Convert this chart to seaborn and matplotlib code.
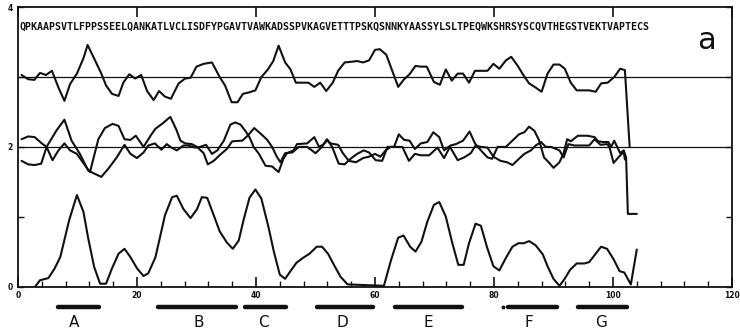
import numpy as np
import pandas as pd
import matplotlib
matplotlib.use("Agg")
import matplotlib.pyplot as plt
from matplotlib.ticker import MultipleLocator
import seaborn as sns

# ---------------- data ----------------
sequence = ("QPKAAPSVTLFPPSSEELQANKATLVCLISDFYPGAVTVAWKADSSPVKAGVETTTPSKQ"
            "SNNKYAASSYLSLTPEQWKSHRSYSCQVTHEGSTVEKTVAPTECS")

top_x = [0.6, 1.7, 2.75, 3.7, 4.7, 5.7, 6.8, 7.8, 8.75, 9.9, 11.0, 11.7, 13.0, 14.0,
         14.8, 15.8, 16.9, 17.7, 18.7, 19.7, 20.7, 21.7, 22.8, 23.7, 24.7, 25.7, 27.0,
         28.1, 29.0, 30.0, 31.2, 32.6, 33.9, 34.8, 35.9, 36.9, 37.8, 38.8, 39.9, 40.9,
         42.0, 42.9, 43.8, 44.9, 45.8, 46.7, 47.8, 48.8, 49.8, 50.8, 51.8, 52.9, 53.8,
         54.9, 56.1, 57.0, 58.0, 59.0, 60.0, 60.8, 61.9, 62.9, 63.9, 64.9, 65.8, 66.8,
         67.7, 68.7, 69.9, 70.9, 71.9, 72.9, 73.9, 74.8, 75.8, 76.8, 78.9, 79.9, 80.9,
         82.0, 82.9, 84.0, 85.0, 85.9, 87.0, 88.0, 89.0, 90.0, 91.0, 91.9, 92.9, 93.9,
         94.9, 96.0, 97.1, 98.0, 99.1, 100.2, 101.2, 102.0, 102.8]
top_y = [3.03, 2.97, 2.96, 3.06, 3.03, 3.09, 2.85, 2.66, 2.90, 3.05, 3.27, 3.46, 3.23, 3.05,
         2.88, 2.76, 2.73, 2.92, 3.04, 2.98, 3.03, 2.80, 2.67, 2.80, 2.72, 2.69, 2.91,
         2.98, 2.99, 3.15, 3.19, 3.21, 3.00, 2.88, 2.64, 2.64, 2.76, 2.78, 2.81, 3.00,
         3.11, 3.23, 3.45, 3.21, 3.11, 2.92, 2.92, 2.92, 2.86, 2.92, 2.80, 2.92, 3.09,
         3.21, 3.22, 3.23, 3.21, 3.24, 3.39, 3.40, 3.32, 3.09, 2.86, 2.97, 3.04, 3.16,
         3.15, 3.15, 2.93, 2.89, 3.11, 2.95, 3.05, 3.05, 2.92, 3.09, 3.09, 3.19, 3.12,
         3.24, 3.29, 3.16, 3.02, 2.91, 2.85, 2.79, 3.05, 3.18, 3.18, 3.12, 2.92, 2.81,
         2.81, 2.81, 2.79, 2.91, 2.92, 3.00, 3.12, 3.10, 2.00]

mid1_x = [0.6, 1.7, 2.8, 4.0, 4.8, 5.8, 6.8, 7.8, 8.75, 9.9, 11.3, 12.1, 13.5, 14.6, 15.9,
          16.9, 17.9, 18.9, 19.8, 21.1, 22.2, 23.1, 24.2, 25.6, 26.6, 27.3, 28.1, 29.2,
          30.1, 31.2, 31.9, 32.9, 34.0, 35.1, 36.0, 37.7, 38.6, 39.7, 40.9, 41.9, 42.7,
          43.5, 44.1, 44.9, 46.1, 47.2, 48.6, 50.0, 51.1, 51.9, 52.8, 53.9, 54.9, 55.9,
          57.0, 58.1, 59.0, 60.1, 61.2, 62.1, 63.2, 64.0, 64.9, 65.8, 66.7, 67.7, 68.8,
          69.8, 70.8, 71.6, 72.7, 73.6, 74.8, 75.9, 76.8, 77.8, 78.9, 79.7, 80.6, 82.0,
          83.1, 84.2, 85.1, 85.9, 86.8, 87.6, 88.4, 89.3, 90.0, 91.0, 91.7, 92.3, 92.9,
          94.1, 95.7, 96.9, 97.5, 98.3, 99.2, 99.7, 100.2, 101.2, 101.8, 102.2, 102.5,
          104.0]
mid1_y = [2.11, 2.15, 2.14, 2.05, 2.00, 1.81, 1.95, 2.05, 1.95, 1.90, 1.73, 1.64, 2.11, 2.27,
          2.33, 2.30, 2.11, 2.10, 2.16, 2.00, 2.15, 2.26, 2.33, 2.43, 2.25, 2.09, 2.05, 2.04,
          2.00, 1.91, 1.75, 1.80, 1.89, 1.97, 2.08, 2.09, 2.16, 2.27, 2.18, 2.10, 2.00,
          1.86, 1.78, 1.91, 1.92, 2.00, 2.00, 1.91, 2.00, 2.11, 2.00, 1.76, 1.75, 1.83,
          1.90, 1.95, 1.92, 1.81, 1.80, 2.00, 2.00, 2.18, 2.10, 2.09, 1.97, 2.05, 2.07,
          2.21, 2.14, 1.95, 2.02, 2.04, 2.09, 2.22, 2.05, 1.95, 1.85, 1.83, 2.00, 2.00,
          2.09, 2.18, 2.21, 2.29, 2.23, 2.09, 1.85, 1.77, 1.70, 1.78, 1.91, 2.11, 2.08,
          2.16, 2.16, 2.14, 2.08, 2.07, 2.07, 2.00, 2.09, 1.91, 1.95, 1.85, 1.04, 1.04]

mid2_x = [0.6, 1.7, 2.8, 3.9, 4.8, 6.5, 7.8, 9.0, 10.4, 11.8, 14.0, 15.2, 16.6, 17.9, 18.9,
          20.0, 21.1, 21.9, 23.0, 24.1, 25.0, 25.6, 26.7, 27.8, 28.6, 29.8, 30.6, 31.6,
          32.6, 33.5, 34.6, 35.7, 36.5, 37.4, 38.2, 38.9, 39.6, 40.5, 41.6, 42.7, 43.8,
          44.6, 45.2, 46.3, 46.9, 48.6, 49.8, 50.6, 51.4, 52.0, 52.5, 53.8, 54.6, 55.6,
          56.8, 58.0, 59.0, 60.0, 60.9, 61.8, 62.6, 63.4, 64.6, 65.7, 66.7, 67.7, 69.1,
          70.5, 71.6, 72.6, 73.9, 75.0, 76.1, 76.9, 77.8, 78.9, 79.9, 81.1, 82.2, 83.1,
          84.2, 85.1, 86.2, 87.0, 87.9, 88.7, 89.6, 91.0, 91.7, 92.5, 93.5, 96.0, 96.9,
          97.9, 99.0, 99.4, 100.1, 100.9, 101.8, 102.0]
mid2_y = [1.80, 1.75, 1.74, 1.76, 2.00, 2.24, 2.39, 2.09, 1.90, 1.66, 1.57, 1.69, 1.85, 2.03,
          1.90, 1.84, 1.92, 2.02, 2.05, 1.96, 2.04, 2.00, 1.95, 2.02, 2.02, 1.99, 2.00,
          2.03, 1.90, 1.95, 2.09, 2.32, 2.35, 2.32, 2.23, 2.14, 2.00, 1.90, 1.73, 1.72,
          1.64, 1.83, 1.91, 1.95, 2.04, 2.05, 2.14, 2.00, 2.04, 2.10, 2.05, 2.03, 1.91,
          1.80, 1.78, 1.84, 1.86, 1.90, 1.86, 1.95, 2.00, 2.00, 2.00, 1.80, 1.90, 1.88,
          1.88, 1.99, 1.84, 2.00, 1.81, 1.85, 1.91, 2.02, 2.00, 1.99, 1.86, 1.80, 1.78,
          1.74, 1.83, 1.90, 1.95, 2.02, 2.07, 2.00, 2.00, 1.95, 1.85, 2.04, 2.02, 2.02,
          2.11, 2.03, 2.04, 2.00, 1.77, 1.85, 1.93, 1.82]

low_x = [2.9, 3.7, 5.1, 6.1, 7.1, 8.6, 9.9, 11.0, 11.8, 12.8, 13.8, 14.8, 15.8, 16.9, 17.9,
         18.9, 20.0, 21.1, 21.9, 23.1, 24.7, 25.9, 26.7, 27.8, 29.0, 30.1, 30.9, 31.8,
         32.9, 33.9, 35.1, 36.1, 37.1, 37.9, 38.9, 39.9, 40.9, 42.1, 43.0, 44.0, 44.9,
         45.7, 46.8, 47.9, 49.0, 50.2, 51.1, 52.1, 53.1, 54.2, 55.4, 61.5, 62.7, 63.9,
         64.8, 65.9, 66.8, 67.8, 68.8, 69.9, 70.8, 71.9, 73.0, 74.0, 74.9, 75.8, 76.9,
         77.8, 78.8, 79.9, 80.9, 82.0, 83.1, 84.1, 85.0, 85.9, 87.0, 88.2, 89.0, 90.0,
         91.0, 91.8, 92.8, 93.9, 95.2, 96.0, 97.0, 98.0, 99.0, 100.1, 101.1, 101.9,
         103.0, 104.0]
low_y = [0.00, 0.09, 0.12, 0.25, 0.42, 0.95, 1.31, 1.07, 0.69, 0.28, 0.04, 0.04, 0.26, 0.47,
         0.54, 0.42, 0.26, 0.15, 0.19, 0.42, 1.02, 1.28, 1.30, 1.11, 0.98, 1.11, 1.28,
         1.27, 1.02, 0.79, 0.63, 0.54, 0.66, 0.95, 1.27, 1.39, 1.26, 0.85, 0.50, 0.17,
         0.11, 0.21, 0.34, 0.41, 0.47, 0.57, 0.57, 0.47, 0.31, 0.14, 0.03, 0.01, 0.38,
         0.70, 0.73, 0.57, 0.50, 0.64, 0.93, 1.17, 1.21, 1.00, 0.62, 0.31, 0.31, 0.62,
         0.90, 0.87, 0.57, 0.29, 0.23, 0.41, 0.57, 0.62, 0.62, 0.65, 0.59, 0.46, 0.29,
         0.11, 0.01, 0.10, 0.24, 0.33, 0.33, 0.35, 0.46, 0.57, 0.54, 0.39, 0.22, 0.20,
         0.03, 0.53]

reference_levels = [2, 3]

segment_labels = ["A", "B", "C", "D", "E", "F", "G"]
segment_start = [6.7, 23.6, 38.2, 50.2, 63.3, 82.3, 94.1]
segment_end = [13.6, 36.7, 45.0, 59.6, 74.7, 90.6, 102.4]
segment_label_x = [9.4, 30.3, 41.2, 54.5, 68.9, 85.9, 98.0]

x_ticks = [0, 20, 40, 60, 80, 100, 120]
y_ticks = [0, 1, 2, 3, 4]
y_ticklabels = ["0", "", "2", "", "4"]
panel_label = "a"

# ---------------- build long table ----------------
frames = []
for name, xs, ys in [("top", top_x, top_y), ("mid1", mid1_x, mid1_y),
                     ("mid2", mid2_x, mid2_y), ("low", low_x, low_y)]:
    frames.append(pd.DataFrame({"residue": xs, "value": ys, "series": name}))
df = pd.concat(frames, ignore_index=True)

# ---------------- figure ----------------
sns.set_style("white")
plt.rcParams["font.family"] = ["DejaVu Sans"]

W, H = 740, 334
fig = plt.figure(figsize=(W / 100, H / 100), dpi=100)
ax = fig.add_axes([18 / W, (H - 286.5) / H, (732 - 18) / W, (286.5 - 7.3) / H])

ink = "#111111"

for lvl in reference_levels:
    ax.axhline(lvl, color=ink, lw=0.9, zorder=1)

sns.lineplot(data=df, x="residue", y="value", units="series", estimator=None,
             sort=False, color=ink, lw=1.5, ax=ax, legend=False, zorder=3)

ax.set_xlim(0, 120)
ax.set_ylim(0, 4)
ax.set_xlabel("")
ax.set_ylabel("")

for s in ax.spines.values():
    s.set_visible(True)
    s.set_color(ink)
    s.set_linewidth(1.3)

ax.set_xticks(x_ticks)
ax.set_xticklabels([str(t) for t in x_ticks], fontsize=5.5, fontweight="bold")
ax.xaxis.set_minor_locator(MultipleLocator(4))
ax.set_yticks(y_ticks)
ax.set_yticklabels(y_ticklabels, fontsize=5.5, fontweight="bold")

ax.tick_params(axis="x", which="major", direction="in", length=7, width=1.2,
               top=True, bottom=True, pad=3, colors=ink)
ax.tick_params(axis="x", which="minor", direction="in", length=4.5, width=1.0,
               top=False, bottom=True, colors=ink)
ax.tick_params(axis="y", which="major", direction="in", length=4, width=1.0,
               left=True, right=True, pad=4, colors=ink)

# sequence along the top
ax.text(0.3, 3.72, sequence, fontsize=7.16, fontweight="bold",
        family="DejaVu Sans Mono", ha="left", va="center", color=ink)

# panel label
ax.text(115.7, 3.52, panel_label, fontsize=22, ha="center", va="center", color=ink)

# segment bars and letters below the axis
bar_y = -0.295
for lab, x0, x1, lx in zip(segment_labels, segment_start, segment_end, segment_label_x):
    ax.plot([x0, x1], [bar_y, bar_y], color=ink, lw=3.2, solid_capstyle="round",
            clip_on=False)
    ax.text(lx, -0.515, lab, fontsize=11, ha="center", va="center", color=ink,
            clip_on=False)
ax.plot([81.5], [bar_y], marker="o", ms=1.8, color=ink, clip_on=False)

fig.savefig("out.png", dpi=100, facecolor="white")
